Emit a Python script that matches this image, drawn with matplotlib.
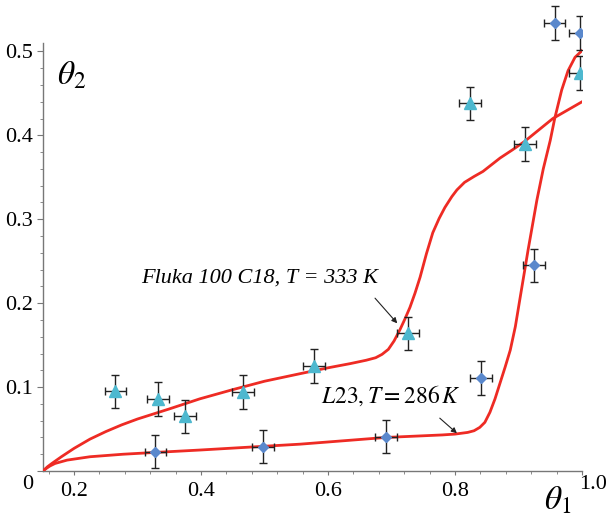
import matplotlib.pyplot as plt
import matplotlib.transforms as mtransforms
from matplotlib.patches import Rectangle
from matplotlib.ticker import MultipleLocator

plt.rcParams['font.family'] = ['Liberation Serif', 'DejaVu Serif']
plt.rcParams['mathtext.fontset'] = 'stix'

# Fluka 100 C18, T = 333 K (triangles)
tri_x = [0.265, 0.332, 0.375, 0.466, 0.578, 0.726, 0.824, 0.910, 0.997]
tri_y = [0.095, 0.086, 0.065, 0.094, 0.125, 0.164, 0.438, 0.390, 0.474]

# L23, T = 286 K (diamonds)
dia_x = [0.328, 0.498, 0.691, 0.841, 0.924, 0.957, 0.997]
dia_y = [0.023, 0.029, 0.041, 0.111, 0.245, 0.534, 0.522]

x_err = 0.017
y_err = 0.02

# model curves
fluka_x = [0.151, 0.158, 0.165, 0.18, 0.20, 0.225, 0.25, 0.275, 0.30,
           0.325, 0.35, 0.398, 0.45, 0.50, 0.556, 0.60, 0.635, 0.66, 0.675,
           0.685, 0.695, 0.704, 0.713, 0.721, 0.729, 0.737, 0.745, 0.755,
           0.765, 0.775, 0.784, 0.795, 0.803, 0.815, 0.83, 0.844, 0.871,
           0.891, 0.910, 0.954, 1.0]
fluka_y = [0.0, 0.005, 0.009, 0.017, 0.027, 0.038, 0.047, 0.055, 0.062,
           0.068, 0.074, 0.086, 0.097, 0.107, 0.116, 0.123, 0.128, 0.132, 0.135,
           0.139, 0.145, 0.155, 0.168, 0.181, 0.195, 0.212, 0.231, 0.259,
           0.284, 0.301, 0.314, 0.327, 0.335, 0.344, 0.351, 0.357, 0.373,
           0.383, 0.393, 0.420, 0.440]

l23_x = [0.151, 0.156, 0.162, 0.170, 0.189, 0.225, 0.277, 0.324, 0.398,
         0.556, 0.691, 0.78, 0.80, 0.82, 0.83, 0.839, 0.847, 0.855, 0.863,
         0.871, 0.879, 0.887, 0.895, 0.902, 0.915, 0.929, 0.939, 0.950,
         0.957, 0.968, 0.978, 0.989, 1.0]
l23_y = [0.0, 0.003, 0.006, 0.009, 0.013, 0.017, 0.020, 0.022, 0.025,
         0.032, 0.040, 0.043, 0.044, 0.046, 0.048, 0.052, 0.058, 0.070, 0.086,
         0.105, 0.124, 0.144, 0.172, 0.204, 0.263, 0.323, 0.360, 0.394,
         0.420, 0.454, 0.477, 0.493, 0.501]

fig = plt.figure(figsize=(6.07, 5.20), dpi=100)
ax = fig.add_axes([0.0708, 0.0942, 0.888, 0.823])

ax.plot(fluka_x, fluka_y, color='#ee2b24', lw=2.0, zorder=3)
ax.plot(l23_x, l23_y, color='#ee2b24', lw=2.0, zorder=3)

clip = Rectangle((0, -0.1), 1, 1.3, transform=ax.transAxes, visible=False)
ax.add_patch(clip)

for xs, ys, mk, ms, col in [(tri_x, tri_y, '^', 8, '#4db8cf'),
                            (dia_x, dia_y, 'D', 5.5, '#5a88cc')]:
    eb = ax.errorbar(xs, ys, xerr=x_err, yerr=y_err, fmt=mk, ms=ms,
                     mfc=col, mec=col, ecolor='#222222', elinewidth=1.0,
                     capsize=3, capthick=1.0, zorder=4)
    data_line, caps, bars = eb.lines
    for art in [data_line, *caps, *bars]:
        art.set_clip_path(clip)

ax.set_xlim(0.151, 1.0)
ax.set_ylim(0, 0.51)

for s in ['top', 'right']:
    ax.spines[s].set_visible(False)
for s in ['left', 'bottom']:
    ax.spines[s].set_color('#777777')
    ax.spines[s].set_linewidth(1.0)

ax.set_xticks([0.2, 0.4, 0.6, 0.8, 1.0])
ax.set_xticklabels(['0.2', '0.4', '0.6', '0.8', '1.0'])
ax.xaxis.set_minor_locator(MultipleLocator(0.04))
ax.set_yticks([0, 0.1, 0.2, 0.3, 0.4, 0.5])
ax.set_yticklabels(['0', '0.1', '0.2', '0.3', '0.4', '0.5'])
ax.yaxis.set_minor_locator(MultipleLocator(0.02))

ax.tick_params(axis='both', which='major', labelsize=16, color='#777777',
               direction='out')
ax.tick_params(axis='x', which='major', length=3, pad=5)
ax.tick_params(axis='x', which='minor', length=2, color='#777777')
ax.tick_params(axis='y', which='major', length=4, pad=3)
ax.tick_params(axis='y', which='minor', length=2.5, color='#777777')

# shift "0" down and "1.0" to the right like the original
lab0 = ax.get_yticklabels()[0]
lab0.set_transform(lab0.get_transform() +
                   mtransforms.ScaledTranslation(0.0, -0.11, fig.dpi_scale_trans))
lab1 = ax.get_xticklabels()[-1]
lab1.set_transform(lab1.get_transform() +
                   mtransforms.ScaledTranslation(0.11, 0.07, fig.dpi_scale_trans))

fig.text(0.1186, 0.854, r'$\theta_2$', fontsize=24, ha='center', va='center')
fig.text(0.918, 0.037, r'$\theta_1$', fontsize=24, ha='center', va='center')

ax.text(0.493, 0.230, 'Fluka 100 C18, T = 333 K', fontsize=16,
        style='italic', ha='center', va='center')
ax.annotate('', xy=(0.709, 0.176), xytext=(0.674, 0.206),
            arrowprops=dict(arrowstyle='-|>', color='#222222', lw=0.8,
                            mutation_scale=8, shrinkA=0, shrinkB=0))

ax.text(0.699, 0.090, r'$L23, T = 286\,K$', fontsize=17,
        ha='center', va='center')
ax.annotate('', xy=(0.803, 0.045), xytext=(0.776, 0.063),
            arrowprops=dict(arrowstyle='-|>', color='#222222', lw=0.8,
                            mutation_scale=8, shrinkA=0, shrinkB=0))

fig.savefig('out.png', dpi=100)
